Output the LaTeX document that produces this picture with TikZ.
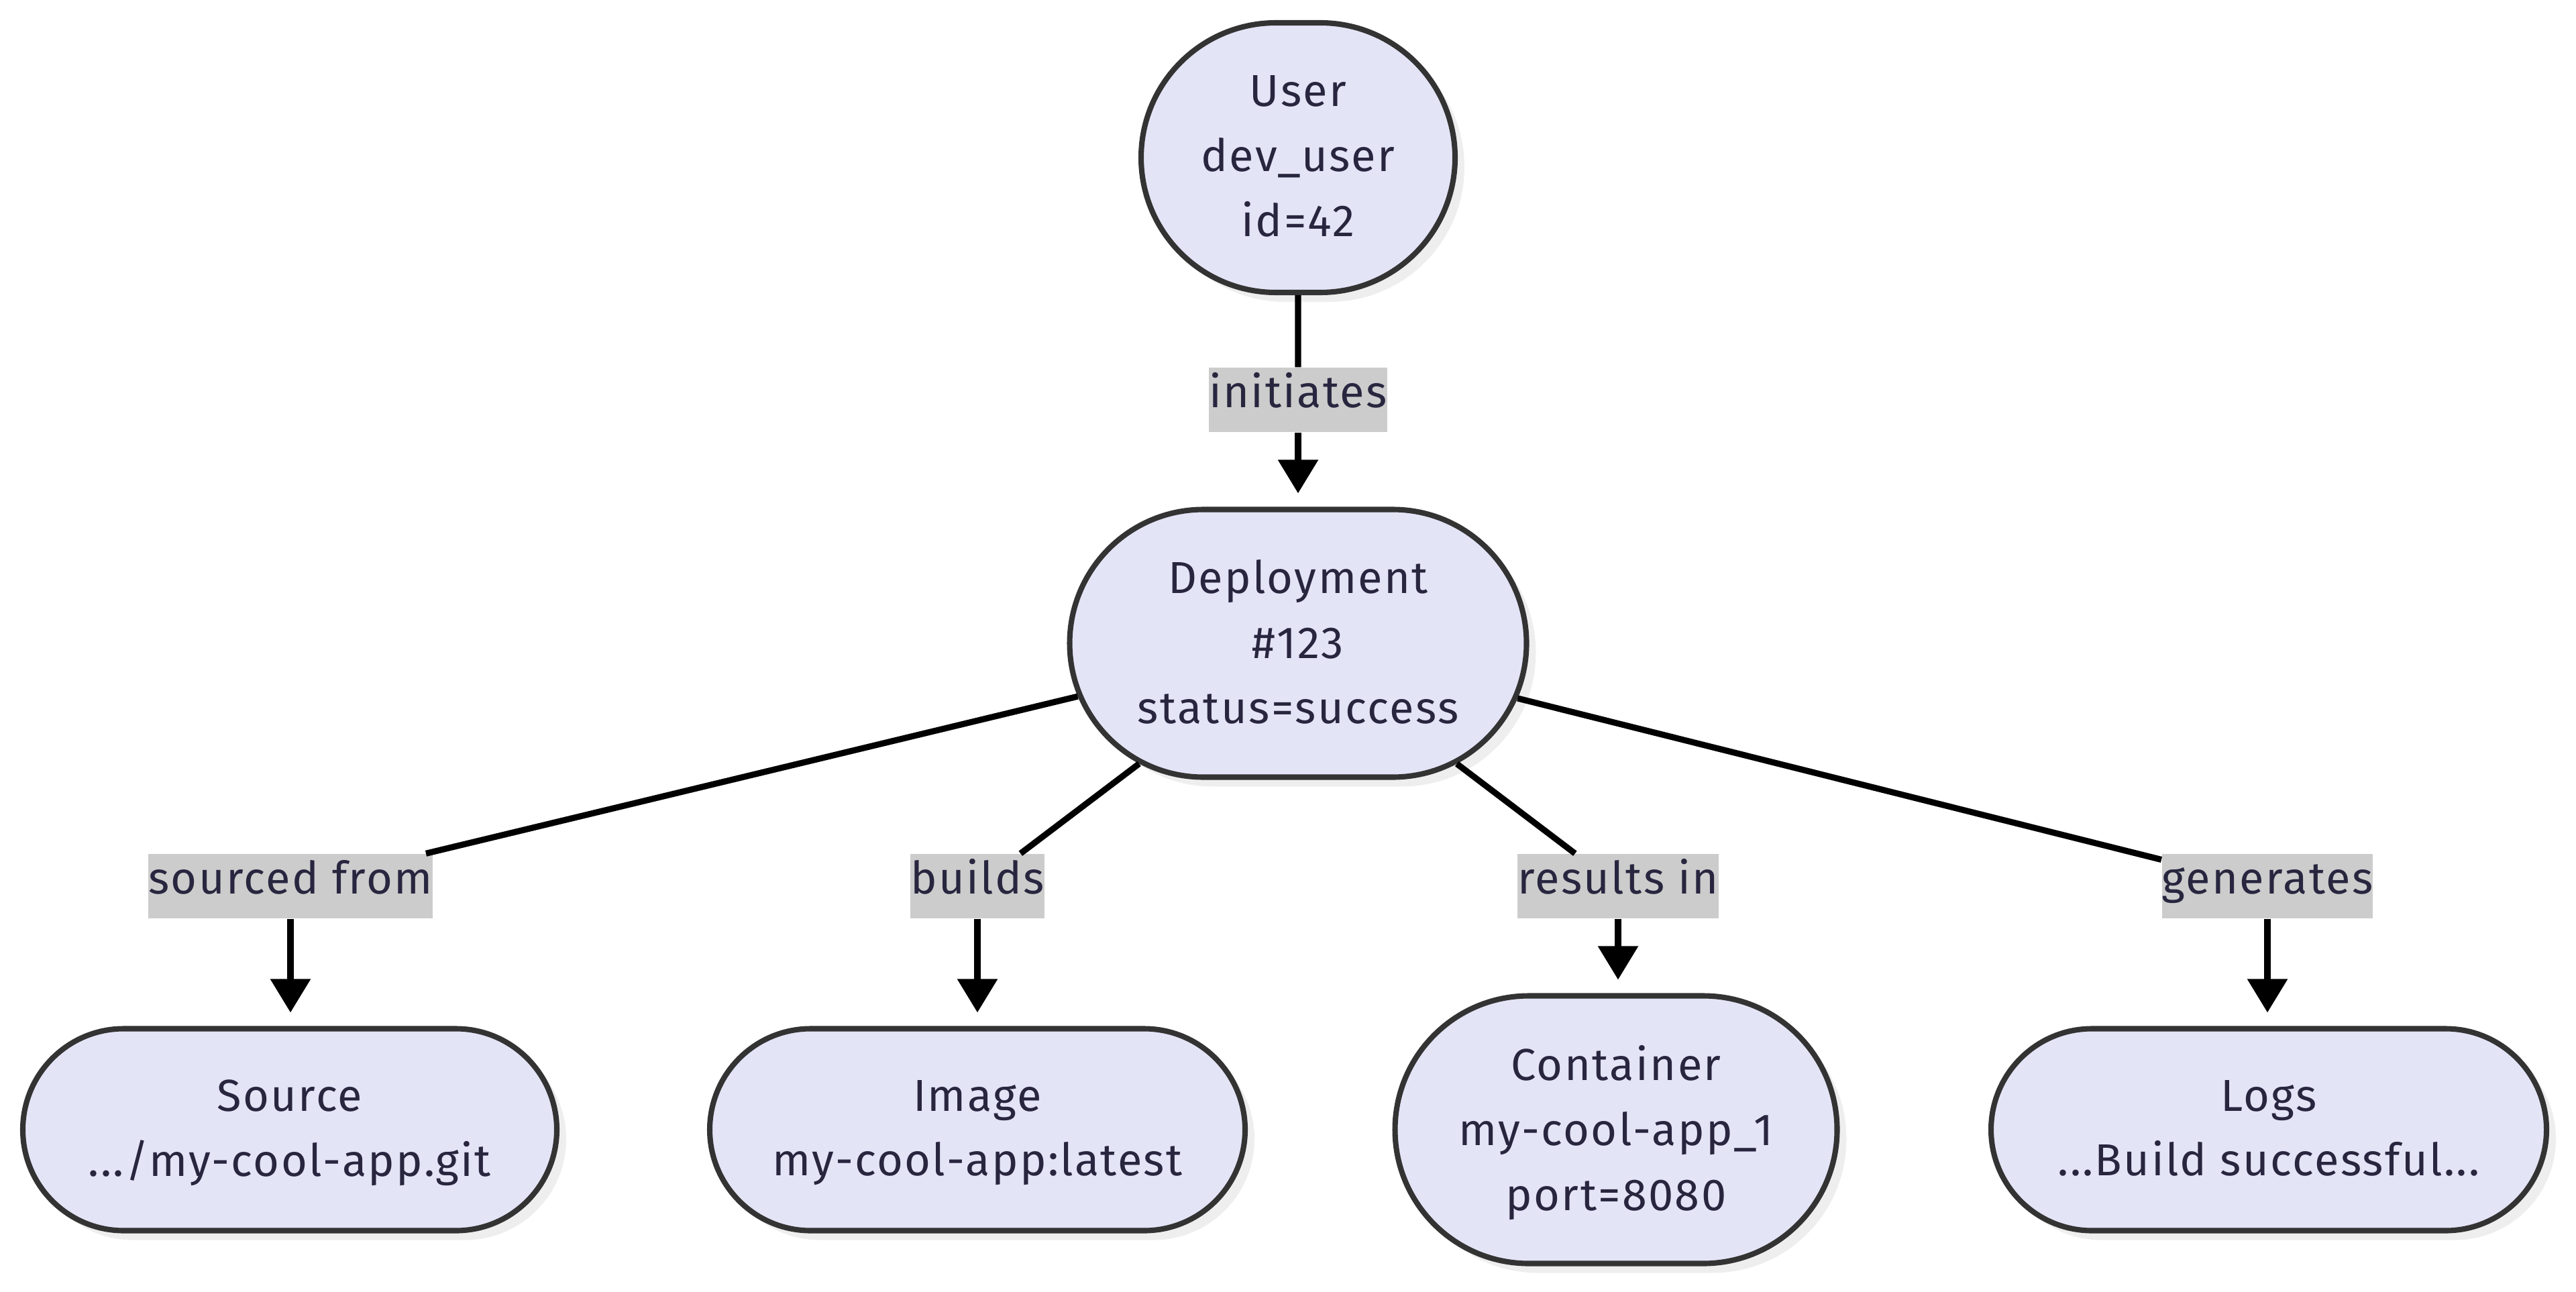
\documentclass[tikz,border=0pt]{standalone}
\usepackage{fontspec}
\setmainfont[LetterSpace=3.5]{Fira Sans}
\usetikzlibrary{shapes.misc,arrows.meta,shadows}
\definecolor{nodefill}{HTML}{E4E4F7}
\definecolor{nodeline}{HTML}{333333}
\definecolor{txt}{HTML}{28263F}
\definecolor{lblbg}{HTML}{CCCCCC}
\definecolor{shadowc}{HTML}{EEEEEE}
\begin{document}
\begin{tikzpicture}[x=1cm,y=-1cm,
  ent/.style={rounded rectangle, draw=nodeline, fill=nodefill, line width=2.3pt,
    text=txt, align=center, font=\fontsize{19}{27.5}\selectfont, inner sep=0pt,
    text depth=1.5pt,
    drop shadow={shadow xshift=0.14cm, shadow yshift=-0.14cm, fill=shadowc, opacity=1}},
  lbl/.style={fill=lblbg, text=txt, inner xsep=0pt, inner ysep=0pt,
    minimum height=0.96cm, text height=0.82em, text depth=0.18em,
    font=\fontsize{19}{27.5}\selectfont},
  conn/.style={line width=2.6pt, draw=black},
  arr/.style={conn, -{Triangle[width=0.58cm,length=0.5cm]}, shorten >=0.2cm}]
\useasboundingbox (0,0) rectangle (38.4,19.26);

% entities
\node[ent, minimum width=4.68cm, minimum height=4.02cm] (user) at (19.35,2.35) {User\\dev\_user\\id=42};
\node[ent, minimum width=6.81cm, minimum height=3.99cm] (dep) at (19.35,9.59) {Deployment\\\#123\\status=success};
\node[ent, minimum width=7.96cm, minimum height=3.01cm] (src) at (4.32,16.84) {Source\\.../my-cool-app.git};
\node[ent, minimum width=7.98cm, minimum height=3.01cm] (img) at (14.57,16.84) {Image\\my-cool-app:latest};
\node[ent, minimum width=6.59cm, minimum height=3.99cm] (cont) at (24.09,16.84) {Container\\my-cool-app\_1\\port=8080};
\node[ent, minimum width=8.28cm, minimum height=3.01cm] (logs) at (33.82,16.84) {Logs\\...Build successful...};

% edge labels
\node[lbl] (linit) at (19.35,5.96) {initiates};
\node[lbl] (lsrc) at (4.33,13.21) {sourced from};
\node[lbl] (limg) at (14.57,13.21) {builds};
\node[lbl] (lcont) at (24.12,13.21) {results in};
\node[lbl] (llogs) at (33.80,13.21) {generates};

% connectors
\draw[conn] (user) -- (linit);
\draw[arr] (linit.south) -- (linit.south |- dep.north);
\draw[conn] (dep) -- (lsrc);
\draw[arr] (lsrc.south) -- (lsrc.south |- src.north);
\draw[conn] (dep) -- (limg);
\draw[arr] (limg.south) -- (limg.south |- img.north);
\draw[conn] (dep) -- (lcont);
\draw[arr] (lcont.south) -- (lcont.south |- cont.north);
\draw[conn] (dep) -- (llogs);
\draw[arr] (llogs.south) -- (llogs.south |- logs.north);
\end{tikzpicture}
\end{document}
